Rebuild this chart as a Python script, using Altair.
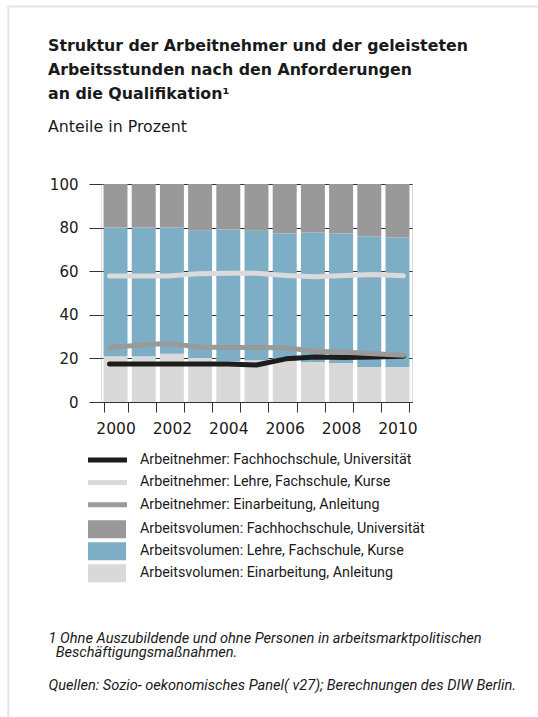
import altair as alt
import pandas as pd

# ---------------- data ----------------
years = [2000, 2001, 2002, 2003, 2004, 2005, 2006, 2007, 2008, 2009, 2010]

vol_series = [
    "Arbeitsvolumen: Fachhochschule, Universität",
    "Arbeitsvolumen: Lehre, Fachschule, Kurse",
    "Arbeitsvolumen: Einarbeitung, Anleitung",
]
vol_fh = [19.9, 20.0, 20.0, 21.5, 20.9, 21.5, 22.7, 22.2, 22.7, 24.1, 24.5]
vol_lehre = [59.1, 59.0, 57.9, 58.3, 60.4, 59.3, 58.4, 59.4, 59.4, 59.8, 59.4]
vol_einarb = [21.0, 21.0, 22.1, 20.2, 18.7, 19.2, 18.9, 18.4, 17.9, 16.1, 16.1]
vol_colors = ["#999999", "#7eadc6", "#d9d9d9"]

an_series = [
    "Arbeitnehmer: Fachhochschule, Universität",
    "Arbeitnehmer: Lehre, Fachschule, Kurse",
    "Arbeitnehmer: Einarbeitung, Anleitung",
]
an_fh = [17.4, 17.4, 17.4, 17.4, 17.4, 17.0, 19.8, 20.6, 20.4, 20.6, 21.0]
an_lehre = [57.8, 57.8, 57.8, 58.8, 59.1, 59.1, 58.0, 57.5, 58.0, 58.5, 57.9]
an_einarb = [25.0, 26.0, 27.0, 25.2, 25.0, 25.0, 24.9, 23.3, 22.8, 22.1, 21.5]
an_colors = ["#1d1d1b", "#dadada", "#9a9a9a"]

y_ticks = [0, 20, 40, 60, 80, 100]

title_lines = [
    "Struktur der Arbeitnehmer und der geleisteten",
    "Arbeitsstunden nach den Anforderungen",
    "an die Qualifikation¹",
]
subtitle = "Anteile in Prozent"
footnote_lines = [
    "1 Ohne Auszubildende und ohne Personen in arbeitsmarktpolitischen",
    "\u200b\u00a0\u00a0Beschäftigungsmaßnahmen.",
]
source_line = "Quellen: Sozio- oekonomisches Panel( v27); Berechnungen des DIW Berlin."

# ---------------- tables ----------------
bar_rows = []
for order, (name, vals) in enumerate(
    [(vol_series[2], vol_einarb), (vol_series[1], vol_lehre), (vol_series[0], vol_fh)]
):
    for y, v in zip(years, vals):
        bar_rows.append({"year": y, "series": name, "value": v, "ord": order})
bars_df = pd.DataFrame(bar_rows)

line_rows = []
for name, vals in zip(an_series, [an_fh, an_lehre, an_einarb]):
    for y, v in zip(years, vals):
        line_rows.append({"year": y, "series": name, "value": v})
lines_df = pd.DataFrame(line_rows)

one = pd.DataFrame({"k": [0]})

BASE = "DejaVu Sans"
NARROW = "Roboto"
TXT = "#1a1a1a"

y_enc = alt.Y(
    "value:Q",
    stack="zero",
    scale=alt.Scale(domain=[0, 100], nice=False),
    axis=alt.Axis(
        values=y_ticks,
        domain=False,
        tickSize=12,
        tickColor="#333333",
        gridColor="#333333",
        gridWidth=1,
        labelFont=BASE,
        labelFontSize=15,
        labelColor=TXT,
        labelPadding=11,
        title=source_line,
        titleAngle=0,
        titleX=-53,
        titleY=505,
        titleAlign="left",
        titleBaseline="alphabetic",
        titleFont=NARROW,
        titleFontSize=14.6,
        titleFontStyle="italic",
        titleFontWeight="normal",
        titleColor=TXT,
    ),
)

bars = alt.Chart(bars_df).mark_bar().encode(
    x=alt.X(
        "year:O",
        scale=alt.Scale(paddingInner=0.15, paddingOuter=0.09),
        axis=alt.Axis(
            labelAngle=0,
            labelExpr="datum.value % 2 == 0 ? datum.label : ''",
            tickBand="extent",
            tickSize=10,
            tickColor="#333333",
            domainColor="#333333",
            labelFont=BASE,
            labelFontSize=15.5,
            labelColor=TXT,
            labelPadding=9,
            grid=False,
            title=footnote_lines,
            titleX=-53,
            titleY=240,
            titleAlign="left",
            titleAnchor="start",
            titleBaseline="alphabetic",
            titleFont=NARROW,
            titleFontSize=14.6,
            titleFontStyle="italic",
            titleFontWeight="normal",
            titleLineHeight=14.5,
            titleColor=TXT,
        ),
    ),
    y=y_enc,
    fill=alt.Fill(
        "series:N",
        scale=alt.Scale(domain=vol_series, range=vol_colors),
        legend=alt.Legend(
            orient="none",
            legendX=-1.15,
            legendY=338,
            direction="vertical",
            title=None,
            padding=0,
            labelFont=NARROW,
            labelFontSize=14.3,
            labelColor=TXT,
            labelLimit=500,
            labelOffset=25.85,
            rowPadding=3.0,
            symbolType="M-3.8,-1.8H3.8V1.8H-3.8Z",
            symbolSize=100,
            symbolStrokeWidth=0,
            symbolOpacity=1,
        ),
    ),
    order=alt.Order("ord:Q"),
)

lines = alt.Chart(lines_df).mark_line(
    strokeWidth=5, strokeCap="round", strokeJoin="round"
).encode(
    x=alt.X("year:O", scale=alt.Scale(type="point", padding=0.29), axis=None),
    y=alt.Y("value:Q", scale=alt.Scale(domain=[0, 100], nice=False), title=source_line),
    stroke=alt.Stroke(
        "series:N",
        scale=alt.Scale(domain=an_series, range=an_colors),
        legend=alt.Legend(
            orient="none",
            legendX=-1,
            legendY=268.5,
            direction="vertical",
            title=None,
            padding=0,
            labelFont=NARROW,
            labelFontSize=14.3,
            labelColor=TXT,
            labelLimit=500,
            labelOffset=25,
            rowPadding=1.4,
            symbolType="M-3.9,0H3.9",
            symbolSize=100,
            symbolStrokeWidth=5,
        ),
    ),
)

frame_top = alt.Chart(one).mark_rule(color="#e4e4e4", strokeWidth=2).encode(
    x=alt.value(-93), x2=alt.value(437), y=alt.value(-177.5)
)
frame_left = alt.Chart(one).mark_rule(color="#e4e4e4", strokeWidth=2).encode(
    x=alt.value(-92.7), y=alt.value(-178), y2=alt.value(533)
)

chart = (
    alt.layer(frame_top, frame_left, bars, lines)
    .resolve_scale(x="independent")
    .properties(
        width=311,
        height=218,
        autosize=alt.AutoSizeParams(type="none"),
        padding={"left": 101, "top": 184, "right": 126, "bottom": 315},
        title=alt.TitleParams(
            text=title_lines,
            subtitle=subtitle,
            anchor="start",
            frame="group",
            dx=-53,
            offset=-131,
            font=BASE,
            fontSize=15.8,
            fontWeight="bold",
            lineHeight=24,
            color=TXT,
            subtitleFont=BASE,
            subtitleFontSize=15.8,
            subtitleFontWeight="normal",
            subtitleColor=TXT,
            subtitlePadding=17,
        ),
    )
    .configure_view(stroke=None)
    .configure(background="white")
)

chart.save("out.html", embed_options={"renderer": "svg", "actions": False})
